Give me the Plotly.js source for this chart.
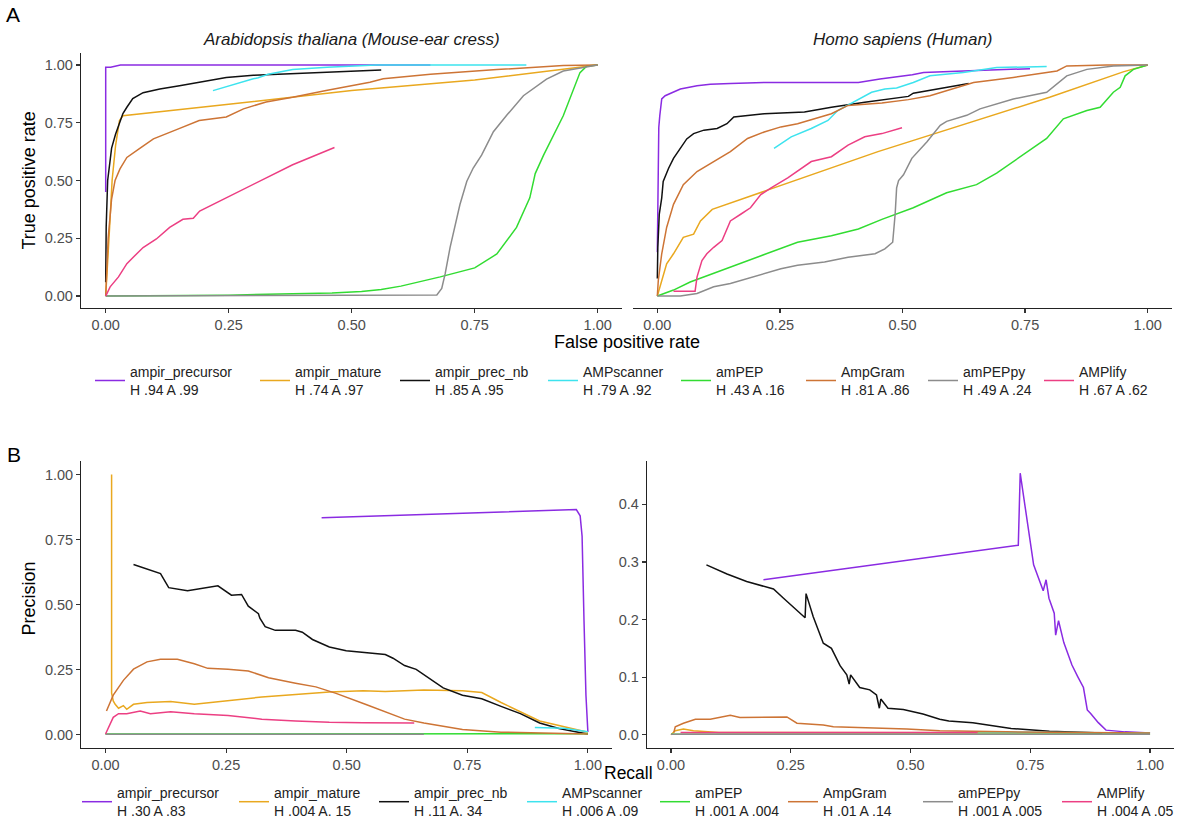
<!DOCTYPE html>
<html>
<head>
<meta charset="utf-8">
<script src="https://cdn.plot.ly/plotly-3.0.1.min.js"></script>
<style>
  html, body { margin: 0; padding: 0; background: #ffffff; }
  #chart { width: 1188px; height: 827px; }
</style>
</head>
<body>
<div id="chart"></div>
<script>
// ---------- models, legend statistics ----------
const models = ['ampir_precursor', 'ampir_mature', 'ampir_prec_nb', 'AMPscanner', 'amPEP', 'AmpGram', 'amPEPpy', 'AMPlify'];
const rocStats = ['H .94 A .99', 'H .74 A .97', 'H .85 A .95', 'H .79 A .92', 'H .43 A .16', 'H .81 A .86', 'H .49 A .24', 'H .67 A .62'];
const prStats  = ['H .30 A .83', 'H .004 A. 15', 'H .11 A. 34', 'H .006 A .09', 'H .001 A .004', 'H .01 A .14', 'H .001 A .005', 'H .004 A .05'];

const unitTicks = [0, 0.25, 0.5, 0.75, 1];
const unitTickText = ['0.00', '0.25', '0.50', '0.75', '1.00'];
const humanPrTicks = [0, 0.1, 0.2, 0.3, 0.4];
const humanPrTickText = ['0.0', '0.1', '0.2', '0.3', '0.4'];

// ---------- ROC, Arabidopsis thaliana (false positive rate / true positive rate) ----------
const athRocX_ampir_precursor = [0, 0, 0.01, 0.03, 0.66];
const athRocY_ampir_precursor = [0.45, 0.99, 0.99, 1.0, 1.0];
const athRocX_ampir_mature = [0, 0.003, 0.008, 0.013, 0.02, 0.028, 0.035, 0.25, 0.5, 0.75, 0.97, 1.0];
const athRocY_ampir_mature = [0, 0.1, 0.3, 0.5, 0.65, 0.76, 0.78, 0.83, 0.89, 0.935, 0.99, 1.0];
const athRocX_ampir_prec_nb = [0, 0.001, 0.004, 0.008, 0.012, 0.02, 0.026, 0.035, 0.043, 0.055, 0.076, 0.11, 0.15, 0.2, 0.245, 0.3, 0.4, 0.5, 0.56];
const athRocY_ampir_prec_nb = [0.06, 0.3, 0.5, 0.58, 0.64, 0.7, 0.74, 0.79, 0.817, 0.855, 0.88, 0.896, 0.91, 0.928, 0.946, 0.955, 0.965, 0.974, 0.978];
const athRocX_AMPscanner = [0.218, 0.25, 0.28, 0.3, 0.31, 0.33, 0.38, 0.45, 0.55, 0.7, 0.855];
const athRocY_AMPscanner = [0.889, 0.91, 0.93, 0.94, 0.945, 0.96, 0.98, 0.99, 1.0, 1.0, 1.0];
const athRocX_amPEP = [0, 0.1, 0.25, 0.38, 0.46, 0.52, 0.56, 0.6, 0.68, 0.75, 0.795, 0.835, 0.862, 0.873, 0.89, 0.93, 0.964, 0.978, 1.0];
const athRocY_amPEP = [0, 0.001, 0.004, 0.01, 0.013, 0.02, 0.028, 0.043, 0.083, 0.122, 0.182, 0.297, 0.425, 0.53, 0.61, 0.78, 0.967, 0.996, 1.0];
const athRocX_AmpGram = [0, 0.005, 0.012, 0.019, 0.029, 0.043, 0.07, 0.097, 0.144, 0.19, 0.245, 0.28, 0.326, 0.38, 0.448, 0.5, 0.537, 0.564, 0.66, 0.795, 0.93, 1.0];
const athRocY_AmpGram = [0, 0.25, 0.42, 0.5, 0.55, 0.6, 0.64, 0.68, 0.72, 0.76, 0.775, 0.81, 0.84, 0.86, 0.89, 0.91, 0.925, 0.94, 0.96, 0.98, 0.998, 1.0];
const athRocX_amPEPpy = [0, 0.6, 0.673, 0.683, 0.69, 0.7, 0.71, 0.72, 0.734, 0.747, 0.764, 0.788, 0.815, 0.849, 0.896, 0.93, 1.0];
const athRocY_amPEPpy = [0, 0.003, 0.005, 0.033, 0.097, 0.211, 0.297, 0.396, 0.497, 0.554, 0.61, 0.711, 0.782, 0.867, 0.939, 0.974, 1.0];
const athRocX_AMPlify = [0, 0.009, 0.026, 0.043, 0.056, 0.076, 0.103, 0.13, 0.157, 0.178, 0.191, 0.245, 0.313, 0.38, 0.465];
const athRocY_AMPlify = [0, 0.04, 0.083, 0.14, 0.168, 0.21, 0.247, 0.297, 0.332, 0.337, 0.368, 0.425, 0.496, 0.568, 0.643];

// ---------- ROC, Homo sapiens ----------
const hsaRocX_ampir_precursor = [0, 0.001, 0.003, 0.005, 0.009, 0.016, 0.033, 0.047, 0.081, 0.108, 0.149, 0.218, 0.41, 0.454, 0.52, 0.543, 0.624, 0.76];
const hsaRocY_ampir_precursor = [0.19, 0.5, 0.73, 0.78, 0.853, 0.867, 0.882, 0.896, 0.91, 0.917, 0.92, 0.924, 0.924, 0.939, 0.958, 0.967, 0.974, 0.984];
const hsaRocX_ampir_mature = [0, 0.009, 0.019, 0.033, 0.053, 0.074, 0.088, 0.112, 0.45, 0.8, 0.95, 1.0];
const hsaRocY_ampir_mature = [0, 0.068, 0.14, 0.183, 0.254, 0.268, 0.325, 0.375, 0.625, 0.86, 0.97, 1.0];
const hsaRocX_ampir_prec_nb = [0, 0.001, 0.004, 0.009, 0.012, 0.023, 0.033, 0.047, 0.06, 0.074, 0.095, 0.122, 0.142, 0.156, 0.218, 0.3, 0.355, 0.423, 0.512, 0.522, 0.635];
const hsaRocY_ampir_prec_nb = [0.076, 0.211, 0.354, 0.425, 0.496, 0.553, 0.596, 0.639, 0.68, 0.703, 0.718, 0.725, 0.746, 0.775, 0.789, 0.796, 0.817, 0.839, 0.864, 0.878, 0.92];
const hsaRocX_AMPscanner = [0.238, 0.273, 0.314, 0.348, 0.368, 0.41, 0.437, 0.464, 0.488, 0.522, 0.556, 0.624, 0.692, 0.794];
const hsaRocY_AMPscanner = [0.639, 0.689, 0.725, 0.76, 0.803, 0.853, 0.882, 0.896, 0.9, 0.924, 0.953, 0.967, 0.989, 0.993];
const hsaRocX_amPEP = [0, 0.033, 0.067, 0.095, 0.149, 0.218, 0.286, 0.355, 0.41, 0.458, 0.522, 0.59, 0.651, 0.692, 0.747, 0.794, 0.828, 0.876, 0.903, 0.93, 0.944, 0.954, 0.971, 1.0];
const hsaRocY_amPEP = [0, 0.026, 0.061, 0.083, 0.126, 0.183, 0.233, 0.261, 0.29, 0.332, 0.382, 0.447, 0.482, 0.532, 0.611, 0.682, 0.767, 0.803, 0.817, 0.882, 0.903, 0.953, 0.981, 1.0];
const hsaRocX_AmpGram = [0, 0.002, 0.009, 0.019, 0.033, 0.053, 0.081, 0.115, 0.149, 0.184, 0.218, 0.252, 0.286, 0.355, 0.389, 0.458, 0.512, 0.556, 0.645, 0.726, 0.815, 0.835, 0.916, 1.0];
const hsaRocY_AmpGram = [0, 0.068, 0.183, 0.297, 0.397, 0.482, 0.539, 0.582, 0.625, 0.682, 0.71, 0.732, 0.746, 0.789, 0.825, 0.835, 0.85, 0.867, 0.924, 0.946, 0.974, 0.996, 1.0, 1.0];
const hsaRocX_amPEPpy = [0, 0.047, 0.081, 0.115, 0.149, 0.197, 0.252, 0.286, 0.341, 0.389, 0.444, 0.464, 0.48, 0.485, 0.488, 0.492, 0.502, 0.519, 0.55, 0.577, 0.59, 0.631, 0.658, 0.726, 0.794, 0.835, 0.876, 0.93, 1.0];
const hsaRocY_amPEPpy = [0, 0, 0.011, 0.04, 0.054, 0.083, 0.118, 0.133, 0.147, 0.168, 0.183, 0.204, 0.233, 0.354, 0.468, 0.5, 0.525, 0.596, 0.668, 0.739, 0.756, 0.782, 0.81, 0.853, 0.882, 0.953, 0.981, 0.996, 1.0];
const hsaRocX_AMPlify = [0.033, 0.077, 0.081, 0.091, 0.101, 0.115, 0.132, 0.149, 0.17, 0.19, 0.211, 0.232, 0.266, 0.293, 0.314, 0.355, 0.389, 0.423, 0.458, 0.499];
const hsaRocY_AMPlify = [0.021, 0.021, 0.083, 0.154, 0.183, 0.211, 0.24, 0.325, 0.354, 0.382, 0.439, 0.468, 0.511, 0.553, 0.582, 0.603, 0.653, 0.689, 0.703, 0.728];

// ---------- Precision-recall, Arabidopsis thaliana (recall / precision) ----------
const athPrX_ampir_precursor = [0.448, 0.976, 0.984, 0.988, 0.992, 0.996, 1.0];
const athPrY_ampir_precursor = [0.834, 0.865, 0.841, 0.763, 0.436, 0.152, 0.01];
const athPrX_ampir_mature = [0.0126, 0.0126, 0.016, 0.02, 0.027, 0.037, 0.044, 0.058, 0.086, 0.135, 0.184, 0.254, 0.324, 0.394, 0.464, 0.534, 0.58, 0.66, 0.74, 0.78, 0.82, 0.9, 0.98, 1.0];
const athPrY_ampir_mature = [1.0, 0.16, 0.13, 0.117, 0.102, 0.112, 0.098, 0.117, 0.124, 0.128, 0.117, 0.131, 0.145, 0.155, 0.164, 0.169, 0.166, 0.172, 0.169, 0.162, 0.124, 0.053, 0.017, 0.01];
const athPrX_ampir_prec_nb = [0.058, 0.114, 0.131, 0.17, 0.233, 0.261, 0.282, 0.296, 0.317, 0.32, 0.331, 0.352, 0.394, 0.408, 0.429, 0.464, 0.499, 0.534, 0.58, 0.596, 0.62, 0.644, 0.66, 0.7, 0.74, 0.78, 0.82, 0.86, 0.9, 0.94, 0.98, 1.0];
const athPrY_ampir_prec_nb = [0.654, 0.619, 0.565, 0.553, 0.572, 0.536, 0.539, 0.494, 0.465, 0.448, 0.415, 0.401, 0.401, 0.394, 0.366, 0.337, 0.323, 0.316, 0.308, 0.294, 0.266, 0.251, 0.23, 0.18, 0.152, 0.138, 0.109, 0.081, 0.045, 0.024, 0.01, 0.003];
const athPrX_AMPscanner = [0.89, 0.95, 1.0];
const athPrY_AMPscanner = [0.028, 0.025, 0.012];
const athPrX_amPEP = [0, 0.5, 1.0];
const athPrY_amPEP = [0.003, 0.004, 0.004];
const athPrX_AmpGram = [0.002, 0.016, 0.037, 0.058, 0.086, 0.114, 0.149, 0.184, 0.212, 0.254, 0.296, 0.338, 0.394, 0.436, 0.478, 0.52, 0.54, 0.62, 0.66, 0.74, 0.82, 1.0];
const athPrY_AmpGram = [0.091, 0.152, 0.209, 0.252, 0.28, 0.29, 0.29, 0.273, 0.255, 0.252, 0.245, 0.219, 0.198, 0.184, 0.159, 0.131, 0.116, 0.06, 0.045, 0.02, 0.01, 0.003];
const athPrX_amPEPpy = [0, 0.33, 0.66];
const athPrY_amPEPpy = [0.002, 0.002, 0.002];
const athPrX_AMPlify = [0, 0.009, 0.016, 0.027, 0.044, 0.072, 0.093, 0.135, 0.184, 0.254, 0.324, 0.394, 0.464, 0.534, 0.64];
const athPrY_AMPlify = [0.003, 0.038, 0.067, 0.081, 0.081, 0.091, 0.081, 0.088, 0.081, 0.074, 0.06, 0.053, 0.048, 0.046, 0.045];

// ---------- Precision-recall, Homo sapiens ----------
const hsaPrX_ampir_precursor = [0.193, 0.725, 0.729, 0.757, 0.777, 0.783, 0.789, 0.8, 0.803, 0.809, 0.82, 0.829, 0.837, 0.849, 0.861, 0.869, 0.876, 0.892, 0.908, 0.948, 1.0];
const hsaPrY_ampir_precursor = [0.269, 0.329, 0.454, 0.295, 0.25, 0.269, 0.237, 0.211, 0.173, 0.198, 0.16, 0.14, 0.121, 0.101, 0.082, 0.043, 0.037, 0.021, 0.008, 0.005, 0.003];
const hsaPrX_ampir_mature = [0, 0.009, 0.026, 0.047, 0.1, 0.5, 1.0];
const hsaPrY_ampir_mature = [0, 0.007, 0.01, 0.007, 0.004, 0.004, 0.003];
const hsaPrX_ampir_prec_nb = [0.074, 0.117, 0.158, 0.214, 0.235, 0.28, 0.282, 0.297, 0.318, 0.335, 0.353, 0.367, 0.372, 0.375, 0.394, 0.415, 0.429, 0.435, 0.438, 0.453, 0.485, 0.526, 0.561, 0.58, 0.63, 0.71, 0.79, 0.9];
const hsaPrY_ampir_prec_nb = [0.295, 0.279, 0.266, 0.253, 0.237, 0.203, 0.245, 0.205, 0.159, 0.15, 0.12, 0.104, 0.088, 0.104, 0.082, 0.078, 0.069, 0.046, 0.062, 0.046, 0.044, 0.036, 0.027, 0.024, 0.021, 0.011, 0.006, 0.003];
const hsaPrX_AMPscanner = [0.64, 0.8, 1.0];
const hsaPrY_AMPscanner = [0.005, 0.004, 0.003];
const hsaPrX_amPEP = [0, 0.5, 1.0];
const hsaPrY_amPEP = [0.001, 0.001, 0.001];
const hsaPrX_AmpGram = [0.006, 0.009, 0.026, 0.051, 0.082, 0.124, 0.144, 0.242, 0.263, 0.318, 0.339, 0.422, 0.492, 0.561, 0.7, 1.0];
const hsaPrY_AmpGram = [0.004, 0.014, 0.02, 0.027, 0.027, 0.034, 0.03, 0.031, 0.02, 0.017, 0.014, 0.012, 0.01, 0.007, 0.005, 0.003];
const hsaPrX_amPEPpy = [0, 0.5, 1.0];
const hsaPrY_amPEPpy = [0.001, 0.001, 0.001];
const hsaPrX_AMPlify = [0.02, 0.3, 0.64];
const hsaPrY_AMPlify = [0.004, 0.004, 0.004];

// ---------- series grouped per panel, in model order ----------
const athRoc = [
  [athRocX_ampir_precursor, athRocY_ampir_precursor], [athRocX_ampir_mature, athRocY_ampir_mature],
  [athRocX_ampir_prec_nb, athRocY_ampir_prec_nb], [athRocX_AMPscanner, athRocY_AMPscanner],
  [athRocX_amPEP, athRocY_amPEP], [athRocX_AmpGram, athRocY_AmpGram],
  [athRocX_amPEPpy, athRocY_amPEPpy], [athRocX_AMPlify, athRocY_AMPlify]
];
const hsaRoc = [
  [hsaRocX_ampir_precursor, hsaRocY_ampir_precursor], [hsaRocX_ampir_mature, hsaRocY_ampir_mature],
  [hsaRocX_ampir_prec_nb, hsaRocY_ampir_prec_nb], [hsaRocX_AMPscanner, hsaRocY_AMPscanner],
  [hsaRocX_amPEP, hsaRocY_amPEP], [hsaRocX_AmpGram, hsaRocY_AmpGram],
  [hsaRocX_amPEPpy, hsaRocY_amPEPpy], [hsaRocX_AMPlify, hsaRocY_AMPlify]
];
const athPr = [
  [athPrX_ampir_precursor, athPrY_ampir_precursor], [athPrX_ampir_mature, athPrY_ampir_mature],
  [athPrX_ampir_prec_nb, athPrY_ampir_prec_nb], [athPrX_AMPscanner, athPrY_AMPscanner],
  [athPrX_amPEP, athPrY_amPEP], [athPrX_AmpGram, athPrY_AmpGram],
  [athPrX_amPEPpy, athPrY_amPEPpy], [athPrX_AMPlify, athPrY_AMPlify]
];
const hsaPr = [
  [hsaPrX_ampir_precursor, hsaPrY_ampir_precursor], [hsaPrX_ampir_mature, hsaPrY_ampir_mature],
  [hsaPrX_ampir_prec_nb, hsaPrY_ampir_prec_nb], [hsaPrX_AMPscanner, hsaPrY_AMPscanner],
  [hsaPrX_amPEP, hsaPrY_amPEP], [hsaPrX_AmpGram, hsaPrY_AmpGram],
  [hsaPrX_amPEPpy, hsaPrY_amPEPpy], [hsaPrX_AMPlify, hsaPrY_AMPlify]
];

// ---------- styling ----------
const modelColors = ['#8A2BE2', '#E9A81F', '#111111', '#3DE3EE', '#32DC32', '#CD7435', '#8C8C8C', '#EC3F83'];
const FONT = 'Liberation Sans, Arial, Helvetica, sans-serif';
const W = 1188, H = 827;
const px = v => v / W;          // pixel column -> paper x
const py = v => 1 - v / H;      // pixel row -> paper y

// legend entry text columns (pixels) for the two legend rows
const rocLegendTextX = [130, 295, 435, 583, 716, 841, 963, 1079];
const prLegendTextX  = [117, 274, 414, 562, 695, 823, 958, 1097];
const rocLegendRowY = 385;
const prLegendRowY = 811;

const traces = [];
function addPanel(series, xa, ya, legendOffset, stats) {
  series.forEach((s, i) => {
    const tr = {
      type: 'scatter', mode: 'lines',
      x: s[0], y: s[1], xaxis: xa, yaxis: ya,
      line: { color: modelColors[i], width: 1.5 },
      hoverinfo: 'skip',
      showlegend: false
    };
    if (legendOffset !== null) {
      tr.showlegend = true;
      tr.name = models[i] + '<br>' + stats[i];
      tr.legend = 'legend' + (legendOffset + i === 1 ? '' : (legendOffset + i));
    }
    traces.push(tr);
  });
}
addPanel(athRoc, 'x', 'y', 1, rocStats);
addPanel(hsaRoc, 'x2', 'y2', null, null);
addPanel(athPr, 'x3', 'y3', 9, prStats);
addPanel(hsaPr, 'x4', 'y4', null, null);

function axis(domainPx, horizontal, extra) {
  const d = horizontal ? [px(domainPx[0]), px(domainPx[1])] : [py(domainPx[1]), py(domainPx[0])];
  return Object.assign({
    domain: d,
    showgrid: false, zeroline: false,
    showline: true, linecolor: '#222222', linewidth: 1.3,
    ticks: 'outside', ticklen: 4, tickwidth: 1.2, tickcolor: '#333333',
    tickfont: { family: FONT, size: 14.5, color: '#4d4d4d' },
    fixedrange: true
  }, extra);
}

const topY = [54.0, 311.0];
const botY = [466.5, 756.0];

const layout = {
  width: W, height: H,
  margin: { l: 0, r: 0, t: 0, b: 0, pad: 0 },
  paper_bgcolor: '#ffffff', plot_bgcolor: '#ffffff',
  showlegend: true,
  font: { family: FONT },
  xaxis:  axis([81.1, 622.3], true,  { anchor: 'y',  range: [-0.05, 1.05], tickvals: unitTicks, ticktext: unitTickText }),
  yaxis:  axis(topY, false,          { anchor: 'x',  range: [-0.05, 1.05], tickvals: unitTicks, ticktext: unitTickText }),
  xaxis2: axis([632.8, 1172.2], true, { anchor: 'y2', range: [-0.05, 1.05], tickvals: unitTicks, ticktext: unitTickText }),
  yaxis2: axis(topY, false,          { anchor: 'x2', range: [-0.05, 1.05], showline: false, showticklabels: false, ticks: '' }),
  xaxis3: axis([81.4, 612.0], true,  { anchor: 'y3', range: [-0.05, 1.05], tickvals: unitTicks, ticktext: unitTickText }),
  yaxis3: axis(botY, false,          { anchor: 'x3', range: [-0.05, 1.05], tickvals: unitTicks, ticktext: unitTickText }),
  xaxis4: axis([647.0, 1174.0], true, { anchor: 'y4', range: [-0.05, 1.05], tickvals: unitTicks, ticktext: unitTickText }),
  yaxis4: axis(botY, false,          { anchor: 'x4', range: [-0.0226, 0.4745], tickvals: humanPrTicks, ticktext: humanPrTickText }),
  annotations: []
};

// one legend box per entry so each key sits in its own column
function legendBox(textX, rowY) {
  return {
    x: px(textX - 40), xanchor: 'left',
    y: py(rowY), yanchor: 'middle',
    orientation: 'v',
    bgcolor: 'rgba(0,0,0,0)', borderwidth: 0,
    font: { family: FONT, size: 14, color: '#222222' },
    itemclick: false, itemdoubleclick: false
  };
}
rocLegendTextX.forEach((tx, i) => {
  layout['legend' + (i === 0 ? '' : (i + 1))] = legendBox(tx, rocLegendRowY);
});
prLegendTextX.forEach((tx, i) => {
  layout['legend' + (i + 9)] = legendBox(tx, prLegendRowY);
});

function label(text, xPx, yPx, opts) {
  layout.annotations.push(Object.assign({
    text: text, xref: 'paper', yref: 'paper', x: px(xPx), y: py(yPx),
    xanchor: 'center', yanchor: 'middle', showarrow: false,
    font: { family: FONT, size: 18, color: '#000000' }
  }, opts || {}));
}
label('A', 13, 15, { font: { family: FONT, size: 21, color: '#000000' } });
label('B', 14, 459, { font: { family: FONT, size: 21, color: '#000000' } });
label('Arabidopsis thaliana (Mouse-ear cress)', 351.7, 40, { font: { family: FONT, size: 17, color: '#1a1a1a', style: 'italic' } });
label('Homo sapiens (Human)', 902.5, 40, { font: { family: FONT, size: 17, color: '#1a1a1a', style: 'italic' } });
label('False positive rate', 627, 346);
label('Recall', 628, 782, { font: { family: FONT, size: 17.5, color: '#000000' } });
label('True positive rate', 29, 182.5, { textangle: -90 });
label('Precision', 29, 605, { textangle: -90 });

Plotly.newPlot('chart', traces, layout, { displayModeBar: false, staticPlot: true });
</script>
</body>
</html>
